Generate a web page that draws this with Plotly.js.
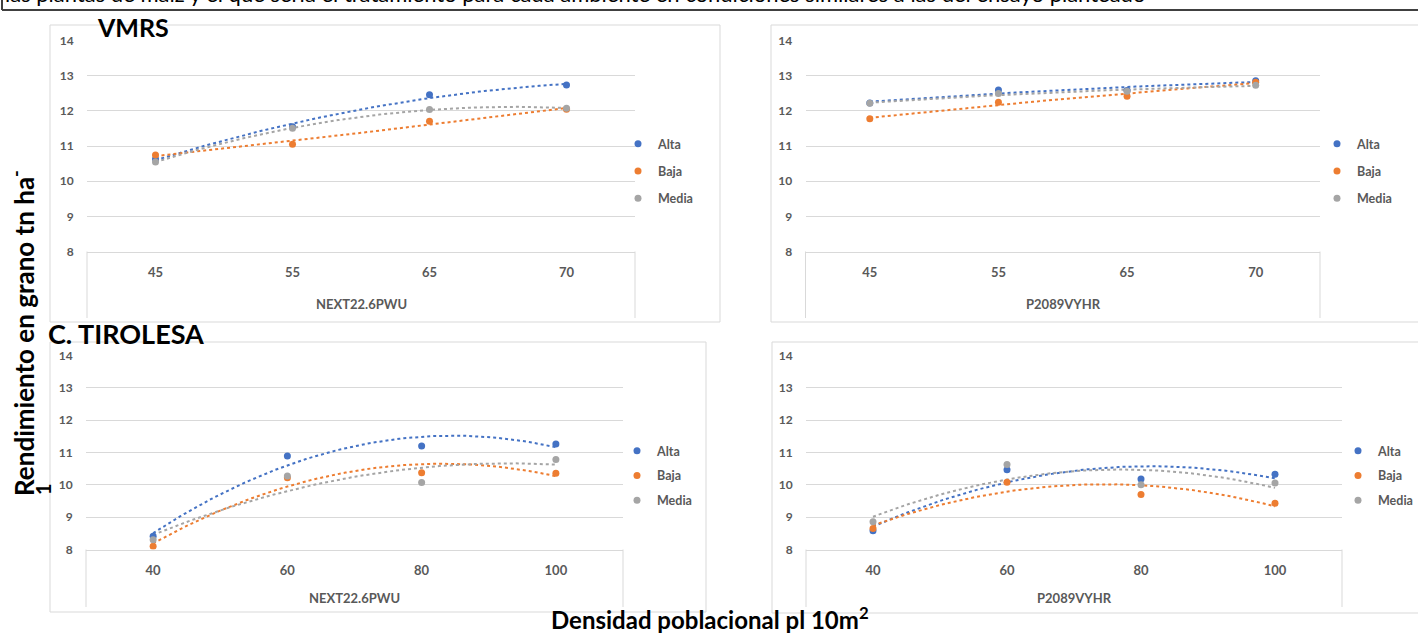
<!DOCTYPE html>
<html><head><meta charset="utf-8">
<script src="https://cdn.plot.ly/plotly-3.0.1.min.js"></script>
<style>html,body{margin:0;padding:0;background:#fff}#chart{width:1418px;height:636px}</style>
</head><body><div id="chart"></div>
<script>
// ---------- data ----------
const catsTop = ['45','55','65','70'];
const catsBot = ['40','60','80','100'];
const seriesNames = ['Alta','Baja','Media'];
const seriesColors = ['#4472C4','#ED7D31','#A5A5A5'];

// VMRS - NEXT22.6PWU
const vmrsNextAlta  = [10.63, 11.55, 12.46, 12.74];
const vmrsNextBaja  = [10.75, 11.05, 11.71, 12.05];
const vmrsNextMedia = [10.55, 11.51, 12.04, 12.08];
// VMRS - P2089VYHR
const vmrsP20Alta  = [12.23, 12.60, 12.58, 12.86];
const vmrsP20Baja  = [11.78, 12.25, 12.42, 12.82];
const vmrsP20Media = [12.22, 12.50, 12.56, 12.73];
// C. TIROLESA - NEXT22.6PWU
const tirNextAlta  = [8.41, 10.89, 11.20, 11.26];
const tirNextBaja  = [8.10, 10.22, 10.37, 10.36];
const tirNextMedia = [8.30, 10.27, 10.07, 10.78];
// C. TIROLESA - P2089VYHR
const tirP20Alta  = [8.58, 10.47, 10.18, 10.33];
const tirP20Baja  = [8.65, 10.08, 9.70, 9.43];
const tirP20Media = [8.86, 10.63, 10.00, 10.06];

const hybridNames = ['NEXT22.6PWU','P2089VYHR','NEXT22.6PWU','P2089VYHR'];

// ---------- helpers ----------
const W = 1418, H = 636;
const fx = p => p / W;
const fy = p => 1 - p / H;

function quadFit(ys) {
  // least squares y = a + b x + c x^2 over x = 0..n-1 (Excel polynomial trendline, order 2)
  const n = ys.length;
  let S = [0,0,0,0,0], T = [0,0,0];
  for (let i = 0; i < n; i++) {
    const x = i;
    for (let k = 0; k < 5; k++) S[k] += Math.pow(x, k);
    for (let k = 0; k < 3; k++) T[k] += ys[i] * Math.pow(x, k);
  }
  const M = [[S[0],S[1],S[2],T[0]],[S[1],S[2],S[3],T[1]],[S[2],S[3],S[4],T[2]]];
  for (let i = 0; i < 3; i++) {
    for (let j = i + 1; j < 3; j++) {
      const f = M[j][i] / M[i][i];
      for (let k = i; k < 4; k++) M[j][k] -= f * M[i][k];
    }
  }
  const c = [0,0,0];
  for (let i = 2; i >= 0; i--) {
    let s = M[i][3];
    for (let k = i + 1; k < 3; k++) s -= M[i][k] * c[k];
    c[i] = s / M[i][i];
  }
  return x => c[0] + c[1] * x + c[2] * x * x;
}

const panels = [
  { cats: catsTop, data: [vmrsNextAlta, vmrsNextBaja, vmrsNextMedia],
    xd: [87, 635], yd: [40.7, 251.5], legX: 618, legY: 129, gap: 8, title: [361, 304] },
  { cats: catsTop, data: [vmrsP20Alta, vmrsP20Baja, vmrsP20Media],
    xd: [805.5, 1320], yd: [40.7, 251.5], legX: 1317, legY: 129, gap: 8, title: [1063, 304] },
  { cats: catsBot, data: [tirNextAlta, tirNextBaja, tirNextMedia],
    xd: [86, 623], yd: [355.5, 549.5], legX: 617, legY: 436, gap: 5.5, title: [354, 598] },
  { cats: catsBot, data: [tirP20Alta, tirP20Baja, tirP20Media],
    xd: [806, 1342], yd: [355.5, 549.5], legX: 1338, legY: 436, gap: 5.5, title: [1074, 598] }
];

const FONT = 'Lato, "Open Sans", sans-serif';
const GRAY_TXT = '#595959';
const GRID = '#d9d9d9';

const traces = [];
const layout = {
  width: W, height: H,
  margin: { l: 0, r: 0, t: 0, b: 0 },
  paper_bgcolor: '#ffffff', plot_bgcolor: 'rgba(0,0,0,0)',
  hovermode: false,
  font: { family: FONT, color: GRAY_TXT },
  annotations: [], shapes: []
};

panels.forEach((p, pi) => {
  const sfx = pi === 0 ? '' : String(pi + 1);
  const xa = 'x' + sfx, ya = 'y' + sfx, lg = 'legend' + sfx;
  const xs = p.cats.map((_, i) => i);
  const samples = [];
  for (let t = 0; t <= 90; t++) samples.push(t * (p.cats.length - 1) / 90);

  p.data.forEach((ys, si) => {
    const f = quadFit(ys);
    traces.push({
      x: samples, y: samples.map(f), xaxis: xa, yaxis: ya,
      mode: 'lines', line: { color: seriesColors[si], width: 2, dash: 'dot' },
      showlegend: false, hoverinfo: 'skip'
    });
  });
  p.data.forEach((ys, si) => {
    traces.push({
      x: xs, y: ys, xaxis: xa, yaxis: ya, name: seriesNames[si],
      mode: 'markers', marker: { color: seriesColors[si], size: 7 },
      legend: lg, legendgroup: 'g' + pi + '_' + si, showlegend: true, hoverinfo: 'skip'
    });
  });

  layout['xaxis' + sfx] = {
    domain: [fx(p.xd[0]), fx(p.xd[1])], anchor: ya,
    range: [-0.5, p.cats.length - 0.5], tickvals: xs, ticktext: p.cats,
    showgrid: false, zeroline: false, showline: true, linecolor: GRID, linewidth: 1,
    ticks: 'outside', ticklen: 9, tickcolor: 'rgba(0,0,0,0)',
    tickfont: { family: FONT, size: 13, color: GRAY_TXT, weight: 'bold' },
    fixedrange: true
  };
  layout['yaxis' + sfx] = {
    domain: [fy(p.yd[1]), fy(p.yd[0])], anchor: xa,
    range: [8, 14], dtick: 1, tick0: 8,
    showgrid: true, gridcolor: GRID, gridwidth: 1, zeroline: false, showline: false,
    ticks: 'outside', ticklen: 10, tickcolor: 'rgba(0,0,0,0)',
    tickfont: { family: FONT, size: 12, color: GRAY_TXT, weight: 'bold' },
    fixedrange: true
  };
  layout[lg] = {
    x: fx(p.legX), xanchor: 'left', y: fy(p.legY), yanchor: 'top',
    bgcolor: 'rgba(0,0,0,0)', borderwidth: 0, tracegroupgap: p.gap, itemwidth: 30,
    font: { family: FONT, size: 12.5, color: GRAY_TXT, weight: 'bold' }
  };

  // hybrid (outer category) label
  layout.annotations.push({
    xref: 'paper', yref: 'paper', x: fx(p.title[0]), y: fy(p.title[1]),
    xanchor: 'center', yanchor: 'middle', showarrow: false,
    text: hybridNames[pi], font: { family: FONT, size: 13, color: GRAY_TXT, weight: 'bold' }
  });
  // category box dividers
  const yb = pi < 2 ? 318 : 607;
  [p.xd[0], p.xd[1]].forEach(xv => layout.shapes.push({
    type: 'line', xref: 'paper', yref: 'paper',
    x0: fx(xv), x1: fx(xv), y0: fy(p.yd[1]), y1: fy(yb),
    line: { color: GRID, width: 1 }
  }));
});

// panel borders
[[50, 25, 720, 322], [771, 25, 1440, 322], [50, 342, 706, 612], [772, 342, 1440, 613]].forEach(r =>
  layout.shapes.push({ type: 'rect', xref: 'paper', yref: 'paper',
    x0: fx(r[0]), x1: fx(r[2]), y0: fy(r[3]), y1: fy(r[1]),
    line: { color: GRID, width: 1 }, fillcolor: 'rgba(0,0,0,0)', layer: 'below' }));

// top frame of the page text box
layout.shapes.push({ type: 'line', xref: 'paper', yref: 'paper', x0: fx(2), x1: fx(1418), y0: fy(10), y1: fy(10),
  line: { color: '#404040', width: 2 } });
layout.shapes.push({ type: 'line', xref: 'paper', yref: 'paper', x0: fx(2), x1: fx(2), y0: fy(0), y1: fy(10),
  line: { color: '#404040', width: 2 } });

// texts
layout.annotations.push(
  { xref: 'paper', yref: 'paper', x: fx(3), y: fy(9.5), xanchor: 'left', yanchor: 'bottom', showarrow: false,
    text: 'las plantas de maíz y el que sería el tratamiento para cada ambiente en condiciones similares a las del ensayo planteado',
    font: { family: FONT, size: 22, color: '#000000' } },
  { xref: 'paper', yref: 'paper', x: fx(95), y: fy(27), xanchor: 'left', yanchor: 'middle', showarrow: false,
    text: 'VMRS', font: { family: FONT, size: 25, color: '#000000', weight: 'bold' } },
  { xref: 'paper', yref: 'paper', x: fx(46), y: fy(333), xanchor: 'left', yanchor: 'middle', showarrow: false,
    text: 'C. TIROLESA', font: { family: FONT, size: 27, color: '#000000', weight: 'bold' } },
  { xref: 'paper', yref: 'paper', x: fx(22), y: fy(333), xanchor: 'center', yanchor: 'middle', showarrow: false,
    textangle: -90, text: 'Rendimiento en grano tn ha<sup>-</sup>',
    font: { family: FONT, size: 26, color: '#000000', weight: 'bold' } },
  { xref: 'paper', yref: 'paper', x: fx(43), y: fy(489), xanchor: 'center', yanchor: 'middle', showarrow: false,
    textangle: -90, text: '1',
    font: { family: FONT, size: 20, color: '#000000', weight: 'bold' } },
  { xref: 'paper', yref: 'paper', x: fx(710), y: fy(636), xanchor: 'center', yanchor: 'bottom', showarrow: false,
    text: 'Densidad poblacional pl 10m<sup>2</sup>',
    font: { family: FONT, size: 24, color: '#000000', weight: 'bold' } }
);

Plotly.newPlot('chart', traces, layout, { staticPlot: true, displayModeBar: false });
</script></body></html>
